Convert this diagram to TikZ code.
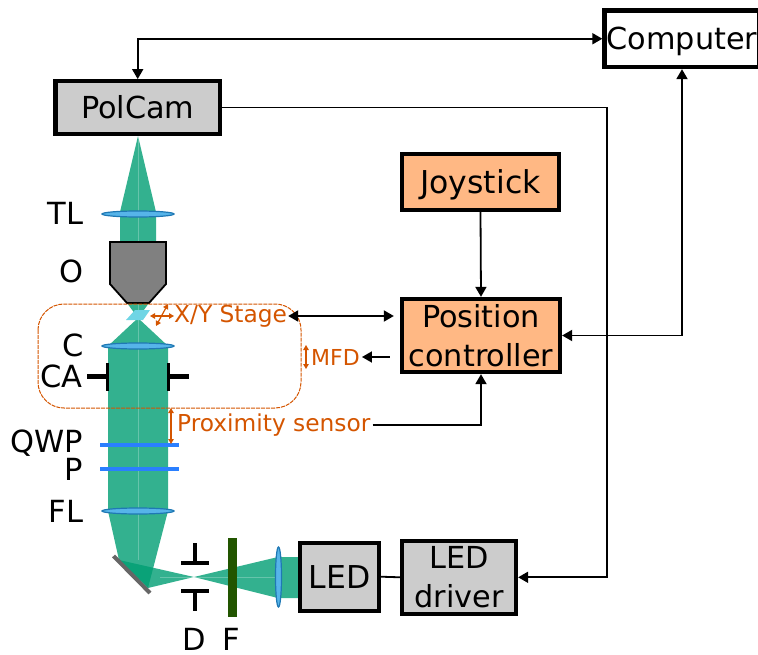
\documentclass[tikz,border=0pt]{standalone}
\usepackage{fontspec}
\setmainfont{DejaVu Sans}
\usepackage{xcolor}
\usetikzlibrary{arrows.meta}

\definecolor{beamgreen}{HTML}{009E73}
\definecolor{lensblue}{HTML}{56B4E9}
\definecolor{lensedge}{HTML}{1F78B4}
\definecolor{plateblue}{HTML}{2A7FFF}
\definecolor{stageorange}{HTML}{D45500}
\definecolor{ctrlorange}{HTML}{FFB884}
\definecolor{boxgrey}{HTML}{CCCCCC}
\definecolor{filtergreen}{HTML}{225500}
\definecolor{samplecyan}{HTML}{6FD5E5}

\tikzset{
    blockbox/.style={draw=black,line width=4.3pt,inner sep=0pt,align=center,font=\fontsize{30.3}{39}\selectfont},
    bigtext/.style={font=\fontsize{31.5}{39}\selectfont},
    oneline/.style={text depth=0pt},
    partlabel/.style={anchor=base east,inner sep=0pt,font=\fontsize{30.5}{36}\selectfont},
    stagelabel/.style={anchor=west,inner sep=0pt,text=stageorange,font=\fontsize{23.3}{27}\selectfont},
    beam/.style={fill=beamgreen,fill opacity=0.8,draw=none},
    beamaxis/.style={draw=white,draw opacity=0.25,line width=0.8pt},
    lens/.style={fill=lensblue,draw=lensedge,line width=1.2pt},
    plate/.style={draw=plateblue,line width=4pt},
    stop/.style={draw=black,line width=4pt},
    wire/.style={line width=1.8pt},
    link/.style={wire,{Triangle[length=10pt,width=11pt]}-{Triangle[length=10pt,width=11pt]}},
    linkto/.style={wire,-{Triangle[length=10pt,width=11pt]}},
    stagearrow/.style={draw=stageorange,line width=1.2pt,{Triangle[length=5pt,width=5.5pt]}-{Triangle[length=5pt,width=5.5pt]}},
}

\begin{document}
\begin{tikzpicture}[x=1pt,y=-1pt]
        \useasboundingbox (0,0) rectangle (758,655);

        % ------------------------------------------------ light path
        \fill[beam] (138,136) -- (156,212) -- (156,242) -- (120,242) -- (120,212) -- cycle;
        \fill[beam] (127,303) -- (149,303) -- (138,318) -- cycle;
        \fill[beam] (138,318) -- (168,346) -- (168,511) -- (108,511) -- (108,346) -- cycle;
        \fill[beam] (108,511) -- (168,511) -- (148,588) -- (119,560) -- cycle;
        \fill[beam] (119,560) -- (194,577) -- (148,588) -- cycle;
        \fill[beam] (194,577) -- (278,557) -- (300,557) -- (300,598) -- (278,598) -- cycle;
        \draw[beamaxis] (138,137) -- (138,241);
        \draw[beamaxis] (138,304) -- (138,560);
        \draw[beamaxis] (160,577) -- (277,577);

        % ------------------------------------------------ optics
        \draw[fill=black!50,line width=1.8pt] (110,242) -- (166,242) -- (166,284) -- (149,303) -- (127,303) -- (110,284) -- cycle;
        \fill[samplecyan] (135,310) -- (150,310) -- (143,320) -- (126,320) -- cycle;

        \draw[lens] (138,214) ellipse (36 and 3);
        \draw[lens] (138,346) ellipse (36 and 3);
        \draw[lens] (138,511) ellipse (36 and 3);
        \draw[lens] (278.5,577) ellipse (3 and 30);

        \draw[plate] (100,445) -- (179,445);
        \draw[plate] (100,469) -- (179,469);

        % condenser aperture
        \draw[stop,line width=5pt] (87,376) -- (108,376);
        \draw[stop,line width=3pt] (107.5,363) -- (107.5,391);
        \draw[stop,line width=5pt] (168,376) -- (189,376);
        \draw[stop,line width=3pt] (168.5,363) -- (168.5,391);

        % mirror, diaphragm, filter
        \draw[draw=black!60,line width=4pt] (113.5,556) -- (150,593);
        \draw[stop] (194.5,543) -- (194.5,563);
        \draw[stop] (181,563) -- (209,563);
        \draw[stop] (181,591) -- (209,591);
        \draw[stop] (194.5,591) -- (194.5,611);
        \fill[filtergreen] (228,538) rectangle (237,617);

        % ------------------------------------------------ labels of the optics
        \node[partlabel] (labelTL) at (83.5,225) {TL};
        \node[partlabel] (labelO) at (84,283) {O};
        \node[partlabel] (labelC) at (84,356) {C};
        \node[partlabel] (labelCA) at (83,387) {CA};
        \node[partlabel] (labelQWP) at (83,452) {QWP};
        \node[partlabel] (labelP) at (83,480) {P};
        \node[partlabel] (labelFL) at (83.5,522) {FL};
        \node[partlabel,anchor=base] (labelD) at (194,650) {D};
        \node[partlabel,anchor=base] (labelF) at (231.5,650) {F};

        % ------------------------------------------------ instruments
        \node[blockbox,oneline,minimum width=155pt,minimum height=56.5pt] (computer) at (682,38.75) {Computer};
        \node[blockbox,fill=boxgrey,minimum width=164.5pt,minimum height=52.7pt] (polcam) at (137.7,107.6) {PolCam};
        \node[blockbox,oneline,bigtext,fill=ctrlorange,minimum width=157pt,minimum height=56pt] (joystick) at (480.5,182) {Joystick};
        \node[blockbox,fill=ctrlorange,minimum width=158pt,minimum height=73pt] (position) at (481,335.5) {Position\\controller};
        \node[blockbox,bigtext,fill=boxgrey,minimum width=78.4pt,minimum height=68pt] (led) at (339.5,576.7) {LED};
        \node[blockbox,fill=boxgrey,minimum width=114pt,minimum height=72.7pt] (driver) at (459,577.3) {LED\\driver};

        % ------------------------------------------------ stage, focus and sensor
        \draw[stageorange,line width=1pt,dash pattern=on 4pt off 1pt,rounded corners=26pt] (38,304) rectangle (301,408);
        \node[stagelabel] (stage) at (174,316) {X/Y Stage};
        \node[stagelabel,font=\fontsize{22}{27}\selectfont] (mfd) at (311,357) {MFD};
        \node[stagelabel] (sensor) at (177,425) {Proximity sensor};

        \draw[stagearrow] (150,316) -- (174,316);
        \draw[stagearrow] (156,326) -- (168,304);
        \draw[stagearrow] (306,345) -- (306,369);
        \draw[stagearrow] (171,408) -- (171,444);

        % ------------------------------------------------ connections
        \coordinate (bus) at (607,300);
        \draw[link] (computer.west) -| (polcam.north);
        \draw[linkto] (polcam.east) -| (bus) |- (driver.east);
        \draw[link] (computer.south) |- (position.east);
        \draw[linkto] (joystick.south) -- (position.north);
        \draw[link,shorten <=1pt,shorten >=6pt] (stage.east) -- (stage.east -| position.west);
        \draw[linkto,shorten <=10pt,shorten >=2pt] (mfd.east -| position.west) -- (mfd.east);
        \draw[linkto,shorten <=2pt] (sensor.east) -| (position.south);
        \draw[wire] (led.east) -- (driver.west);

\end{tikzpicture}
\end{document}
